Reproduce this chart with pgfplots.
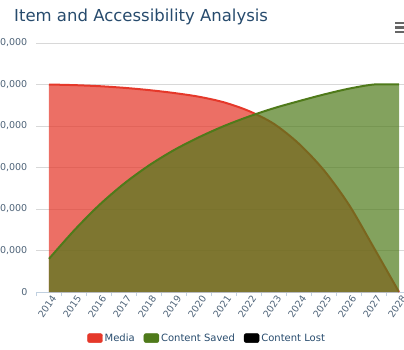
\documentclass[border=0pt]{standalone}
\usepackage{pgfplots}
\usepackage{pgfplotstable}
\pgfplotsset{compat=1.18}
\usepackage{fontspec}
\setmainfont{DejaVu Sans}

\definecolor{mediared}{HTML}{E5382A}
\definecolor{savedgreen}{HTML}{4F7A1A}
\definecolor{titleblue}{HTML}{274B6D}
\definecolor{labelgrey}{HTML}{4F6479}
\definecolor{gridgrey}{HTML}{D8D8D8}
\definecolor{axisblue}{HTML}{C0D0E0}
\definecolor{menugrey}{HTML}{666666}

% year index (0 = 2014) and item counts
\pgfplotstableread{
x y
0 50000
1 49850
2 49600
3 49200
4 48650
5 47950
6 47050
7 45700
8 43600
9 40500
10 35700
11 29300
12 21000
13 10600
14 0
}\media

\pgfplotstableread{
x y
0 8000
1 14800
2 20900
3 26100
4 30500
5 34200
6 37300
7 40000
8 42300
9 44300
10 46000
11 47600
12 49000
13 50000
14 50000
}\saved

\begin{document}
\begin{tikzpicture}[x=1pt,y=1pt]
\useasboundingbox (0,0) rectangle (404,349);
\clip (0,0) rectangle (404,349);

% title
\node[anchor=base west, inner sep=0pt, text=titleblue,
      font=\fontsize{16.5}{19}\selectfont] at (14,327) {Item and Accessibility Analysis};

% export menu icon
\foreach \yy in {326,321.5,317}
  \draw[menugrey, line width=2.2pt] (395,\yy) -- (412,\yy);

\begin{axis}[
  at={(36.5pt,57pt)}, anchor=south west,
  scale only axis, width=375pt, height=249pt,
  xmin=-0.5, xmax=14.5, ymin=0, ymax=60000,
  axis x line*=bottom, axis y line*=left,
  x axis line style={axisblue, line width=1pt, -},
  y axis line style={draw=none},
  xtick={0,...,14},
  xticklabels={2014,2015,2016,2017,2018,2019,2020,2021,2022,2023,2024,2025,2026,2027,2028},
  minor xtick={-0.5,0.5,...,14.5},
  major tick length=0pt,
  minor tick length=4pt,
  tick align=outside,
  minor tick style={axisblue, line width=1pt},
  ytick={0,10000,...,60000},
  ymajorgrids,
  grid style={gridgrey, line width=1pt},
  scaled y ticks=false,
  /pgf/number format/.cd, fixed, 1000 sep={,}, assume math mode=true,
  /pgfplots/.cd,
  tick label style={font=\fontsize{9.5}{11}\selectfont, text=labelgrey},
  yticklabel style={anchor=east, inner sep=0pt, xshift=-9pt},
  xticklabel style={rotate=55, anchor=east, inner sep=0pt, yshift=-7pt, xshift=-1pt},
  legend style={at={(0.455,-0.185)}, anchor=center, draw=none, fill=none,
    legend columns=3, font=\fontsize{10}{12}\selectfont, text=titleblue,
    /tikz/every even column/.append style={column sep=7pt},
    inner sep=0pt, cells={inner xsep=2.5pt}},
  clip=true,
]
% Media
\addplot[forget plot, draw=none, fill=mediared, fill opacity=0.72, smooth, tension=0.5]
  table[x=x,y=y]{\media} \closedcycle;
\addplot[forget plot, mediared, line width=2pt, smooth, tension=0.5]
  table[x=x,y=y]{\media};
% Content Saved
\addplot[forget plot, draw=none, fill=savedgreen, fill opacity=0.7, smooth, tension=0.5]
  table[x=x,y=y]{\saved} \closedcycle;
\addplot[forget plot, savedgreen, line width=2pt, smooth, tension=0.5]
  table[x=x,y=y]{\saved};

\addlegendimage{legend image code/.code={\fill[mediared, rounded corners=2pt] (0pt,-4.5pt) rectangle (15pt,4.5pt);}}
\addlegendentry{Media}
\addlegendimage{legend image code/.code={\fill[savedgreen, rounded corners=2pt] (0pt,-4.5pt) rectangle (15pt,4.5pt);}}
\addlegendentry{Content Saved}
\addlegendimage{legend image code/.code={\fill[black, rounded corners=2pt] (0pt,-4.5pt) rectangle (15pt,4.5pt);}}
\addlegendentry{Content Lost}
\end{axis}
\end{tikzpicture}
\end{document}
